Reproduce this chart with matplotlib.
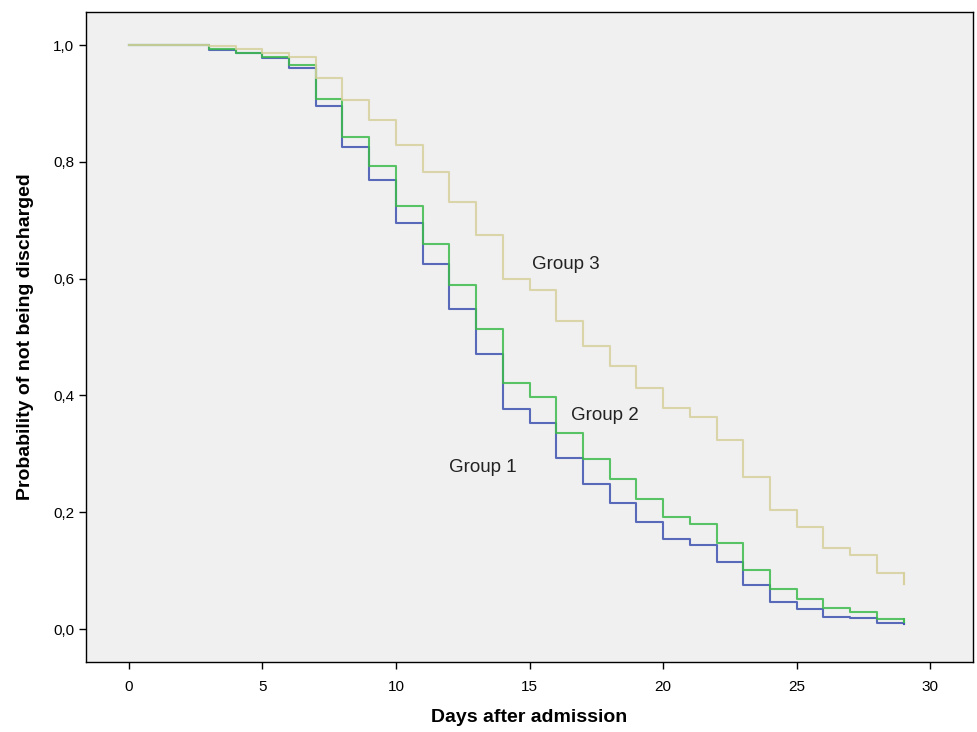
import matplotlib.pyplot as plt
from matplotlib.ticker import FuncFormatter

plt.rcParams['font.family'] = ['Liberation Sans', 'DejaVu Sans']

# Days after admission (step starts)
days = list(range(30))

# Probability of not being discharged
group1 = [1.0, 1.0, 1.0, 0.992, 0.986, 0.977, 0.960, 0.896, 0.825, 0.769,
          0.696, 0.625, 0.548, 0.471, 0.376, 0.353, 0.292, 0.248, 0.216, 0.183,
          0.154, 0.144, 0.114, 0.075, 0.046, 0.034, 0.021, 0.019, 0.011, 0.008]
group2 = [1.0, 1.0, 1.0, 0.993, 0.987, 0.980, 0.966, 0.907, 0.843, 0.793,
          0.725, 0.659, 0.589, 0.514, 0.421, 0.398, 0.335, 0.291, 0.257, 0.222,
          0.192, 0.180, 0.147, 0.101, 0.068, 0.051, 0.036, 0.029, 0.017, 0.012]
group3 = [1.0, 1.0, 1.0, 0.998, 0.993, 0.986, 0.980, 0.944, 0.905, 0.872,
          0.829, 0.782, 0.732, 0.675, 0.600, 0.581, 0.527, 0.484, 0.450, 0.412,
          0.379, 0.363, 0.323, 0.261, 0.204, 0.175, 0.139, 0.127, 0.096, 0.077]

labels = ["Group 1", "Group 2", "Group 3"]
label_pos = [(12.0, 0.277), (16.55, 0.366), (15.1, 0.625)]
colors = ["#3f52b0", "#3dbb4c", "#d6d19c"]

fig = plt.figure(figsize=(9.77, 7.32), dpi=100)
ax = fig.add_axes([0.088, 0.0956, 0.908, 0.888])
ax.set_facecolor("#f0f0f0")

# step curves; the last value is the small drop at day 29
for vals, c in zip([group1, group2, group3], colors):
    ax.step(days, vals, where="post", color=c, lw=1.5, alpha=0.85)
    ax.plot([days[-1], days[-1]], [vals[-2], vals[-1]], color=c, lw=1.5, alpha=0.85)

for lab, (x, y) in zip(labels, label_pos):
    ax.text(x, y, lab, fontsize=13.5, color="#222222", va="center", ha="left")

ax.set_xlim(-1.6, 31.6)
ax.set_ylim(-0.0565, 1.0565)
ax.set_xticks([0, 5, 10, 15, 20, 25, 30])
ax.set_yticks([0.0, 0.2, 0.4, 0.6, 0.8, 1.0])
ax.yaxis.set_major_formatter(FuncFormatter(lambda v, p: f"{v:.1f}".replace(".", ",")))
ax.tick_params(labelsize=11, length=5, width=1, colors="black")
ax.tick_params(axis="x", pad=8)

for s in ax.spines.values():
    s.set_color("black")
    s.set_linewidth(1)

ax.set_xlabel("Days after admission", fontsize=14, fontweight="bold", labelpad=11)
ax.set_ylabel("Probability of not being discharged", fontsize=14, fontweight="bold", labelpad=14)

plt.savefig("out.png", dpi=100)
